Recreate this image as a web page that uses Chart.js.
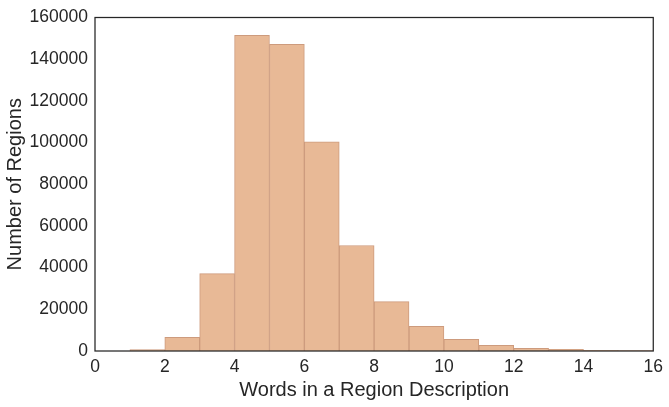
<!DOCTYPE html>
<html>
<head>
<meta charset="utf-8">
<script src="https://cdn.jsdelivr.net/npm/chart.js@4/dist/chart.umd.min.js"></script>
<style>
  html, body { margin: 0; padding: 0; background: #fff; }
  #wrap { width: 669px; height: 407px; }
</style>
</head>
<body>
<div id="wrap"><canvas id="hist"></canvas></div>
<script>
// histogram bins (left edge of each bin, width 1)
const binStarts = [1, 2, 3, 4, 5, 6, 7, 8, 9, 10, 11, 12, 13, 14, 15];
const regionCounts = [650, 6500, 37100, 151400, 147100, 100300, 50600, 23700, 11800, 5600, 2700, 1300, 800, 350, 200];
const xTicks = [0, 2, 4, 6, 8, 10, 12, 14, 16];
const yTicks = [0, 20000, 40000, 60000, 80000, 100000, 120000, 140000, 160000];

const textColor = "#262626";

// cadre autour de la zone du graphique
const cadre = {
    id: "cadre",
    afterDraw(chart) {
        const { ctx, chartArea: a } = chart;
        ctx.save();
        ctx.strokeStyle = "#262626";
        ctx.lineWidth = 1.25;
        ctx.strokeRect(a.left, a.top, a.right - a.left, a.bottom - a.top);
        ctx.restore();
    }
};

const ctx = document.getElementById("hist").getContext("2d");
new Chart(ctx, {
    type: "bar",
    data: {
        datasets: [{
            data: binStarts.map((b, i) => ({ x: b + 0.5, y: regionCounts[i] })),
            backgroundColor: "rgba(232, 185, 150, 1)",
            borderColor: "rgba(205, 155, 125, 1)",
            borderWidth: 1,
            barPercentage: 1,
            categoryPercentage: 1
        }]
    },
    options: {
        responsive: true,
        maintainAspectRatio: false,
        animation: false,
        layout: { padding: { top: 16, right: 14, left: 0, bottom: 0 } },
        plugins: {
            legend: { display: false },
            tooltip: { enabled: false }
        },
        scales: {
            x: {
                type: "linear",
                min: 0,
                max: 16,
                offset: false,
                grid: { display: false, drawTicks: false },
                border: { display: false },
                afterBuildTicks: (scale) => { scale.ticks = xTicks.map(v => ({ value: v })); },
                afterFit: (scale) => { scale.height = 56; },
                ticks: {
                    color: textColor,
                    padding: 6,
                    maxRotation: 0,
                    autoSkip: false,
                    font: { family: "Liberation Sans, Arial, sans-serif", size: 17.5 }
                },
                title: {
                    display: true,
                    text: "Words in a Region Description",
                    color: textColor,
                    padding: { top: 0, bottom: 5 },
                    font: { family: "Liberation Sans, Arial, sans-serif", size: 20 }
                }
            },
            y: {
                min: 0,
                max: 160000,
                grid: { display: false, drawTicks: false },
                border: { display: false },
                afterBuildTicks: (scale) => { scale.ticks = yTicks.map(v => ({ value: v })); },
                afterFit: (scale) => { scale.width = 95; },
                ticks: {
                    color: textColor,
                    padding: 7,
                    autoSkip: false,
                    callback: (v) => String(v),
                    font: { family: "Liberation Sans, Arial, sans-serif", size: 17.5 }
                },
                title: {
                    display: true,
                    text: "Number of Regions",
                    color: textColor,
                    padding: { top: 3.5, bottom: 0 },
                    font: { family: "Liberation Sans, Arial, sans-serif", size: 20 }
                }
            }
        }
    },
    plugins: [cadre]
});
</script>
</body>
</html>
